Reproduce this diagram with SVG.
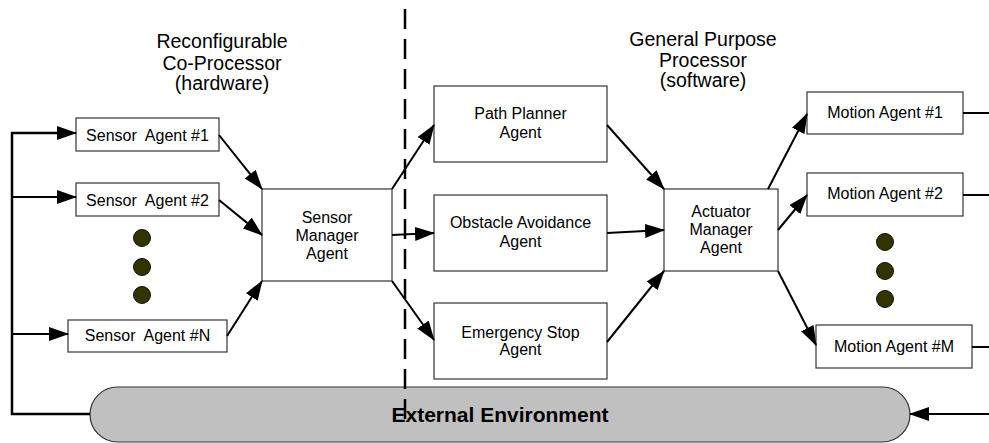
<svg xmlns="http://www.w3.org/2000/svg" width="989" height="443" viewBox="0 0 989 443">
<defs>
<marker id="ah" markerUnits="userSpaceOnUse" markerWidth="20" markerHeight="14" refX="19" refY="7" orient="auto">
<path d="M0,0 L20,7 L0,14 z" fill="#000"/>
</marker>
<style>
.box{fill:#fff;stroke:#333;stroke-width:1.2}
.t{font-family:"Liberation Sans",Arial,sans-serif;font-size:16px;fill:#000;text-anchor:middle}
.title{font-family:"Liberation Sans",Arial,sans-serif;font-size:19.5px;fill:#000;text-anchor:middle}
.c{fill:none;stroke:#000;stroke-width:2}
.a{fill:none;stroke:#000;stroke-width:2;marker-end:url(#ah)}
.fb{fill:none;stroke:#000;stroke-width:2.5}
.dot{fill:#333300;stroke:#111;stroke-width:1}
</style>
</defs>
<rect width="989" height="443" fill="#fff"/>

<g id="titles">
<text class="title" x="222" y="48">Reconfigurable</text>
<text class="title" x="222" y="70">Co-Processor</text>
<text class="title" x="222" y="90">(hardware)</text>
<text class="title" x="703" y="46">General Purpose</text>
<text class="title" x="703" y="67">Processor</text>
<text class="title" x="703" y="87">(software)</text>
</g>

<g id="environment">
<rect x="90" y="387" width="820" height="55" rx="27.5" fill="#c0c0c0" stroke="#333" stroke-width="1.2"/>
<text x="500" y="422" font-family="Liberation Sans,Arial,sans-serif" font-size="21" font-weight="bold" text-anchor="middle" fill="#000">External Environment</text>
</g>

<g id="divider">
<line x1="405" y1="9" x2="405" y2="419" stroke="#000" stroke-width="2.5" stroke-dasharray="20 10"/>
</g>

<g id="sensor1"><rect class="box" x="76" y="118" width="143" height="33"/><text class="t" x="147.5" y="141" xml:space="preserve">Sensor  Agent #1</text></g>
<g id="sensor2"><rect class="box" x="76" y="183" width="143" height="33"/><text class="t" x="147.5" y="206" xml:space="preserve">Sensor  Agent #2</text></g>
<g id="sensorN"><rect class="box" x="68" y="320" width="159" height="32"/><text class="t" x="147.5" y="341" xml:space="preserve">Sensor  Agent #N</text></g>

<g id="sensorDots">
<circle class="dot" cx="142" cy="238" r="8.5"/>
<circle class="dot" cx="142" cy="267" r="8.5"/>
<circle class="dot" cx="142" cy="295" r="8.5"/>
</g>

<g id="sensorManager"><rect class="box" x="262" y="189" width="130" height="92"/>
<text class="t" x="327" y="223">Sensor</text><text class="t" x="327" y="241">Manager</text><text class="t" x="327" y="259">Agent</text></g>

<g id="pathPlanner"><rect class="box" x="434" y="86" width="173" height="76"/>
<text class="t" x="520.5" y="119">Path Planner</text><text class="t" x="520.5" y="138">Agent</text></g>
<g id="obstacle"><rect class="box" x="434" y="195" width="173" height="76"/>
<text class="t" x="520.5" y="228">Obstacle Avoidance</text><text class="t" x="520.5" y="247">Agent</text></g>
<g id="emergency"><rect class="box" x="434" y="303" width="173" height="76"/>
<text class="t" x="520.5" y="338">Emergency Stop</text><text class="t" x="520.5" y="355">Agent</text></g>

<g id="actuatorManager"><rect class="box" x="664" y="189" width="114" height="82"/>
<text class="t" x="721" y="217">Actuator</text><text class="t" x="721" y="235">Manager</text><text class="t" x="721" y="253">Agent</text></g>

<g id="motion1"><rect class="box" x="807" y="92" width="156" height="42"/><text class="t" x="885" y="118">Motion Agent #1</text></g>
<g id="motion2"><rect class="box" x="807" y="173" width="156" height="43"/><text class="t" x="885" y="199">Motion Agent #2</text></g>
<g id="motionM"><rect class="box" x="816" y="325" width="156" height="43"/><text class="t" x="894" y="352">Motion Agent #M</text></g>

<g id="motionDots">
<circle class="dot" cx="885" cy="242" r="8.5"/>
<circle class="dot" cx="885" cy="271" r="8.5"/>
<circle class="dot" cx="885" cy="299" r="8.5"/>
</g>

<g id="connectors">
<path class="fb" d="M90,414 H12 V133 H60"/>
<path class="a" d="M58,133 H76"/>
<path class="a" d="M12,197 H76"/>
<path class="a" d="M12,334 H68"/>
<path class="a" d="M219,135 L262,189"/>
<path class="a" d="M219,200 L262,235"/>
<path class="a" d="M227,336 L262,281"/>
<path class="a" d="M392,189 L434,125"/>
<path class="a" d="M392,235 L434,233"/>
<path class="a" d="M392,281 L434,340"/>
<path class="a" d="M607,125 L664,189"/>
<path class="a" d="M607,233 L664,230"/>
<path class="a" d="M607,342 L664,271"/>
<path class="a" d="M768,189 L807,114"/>
<path class="a" d="M778,230 L807,195"/>
<path class="a" d="M778,271 L816,345"/>
<path class="c" d="M963,113 H989"/>
<path class="c" d="M963,195 H989"/>
<path class="c" d="M972,347 H989"/>
<path class="a" d="M989,414 H910"/>
</g>
</svg>
